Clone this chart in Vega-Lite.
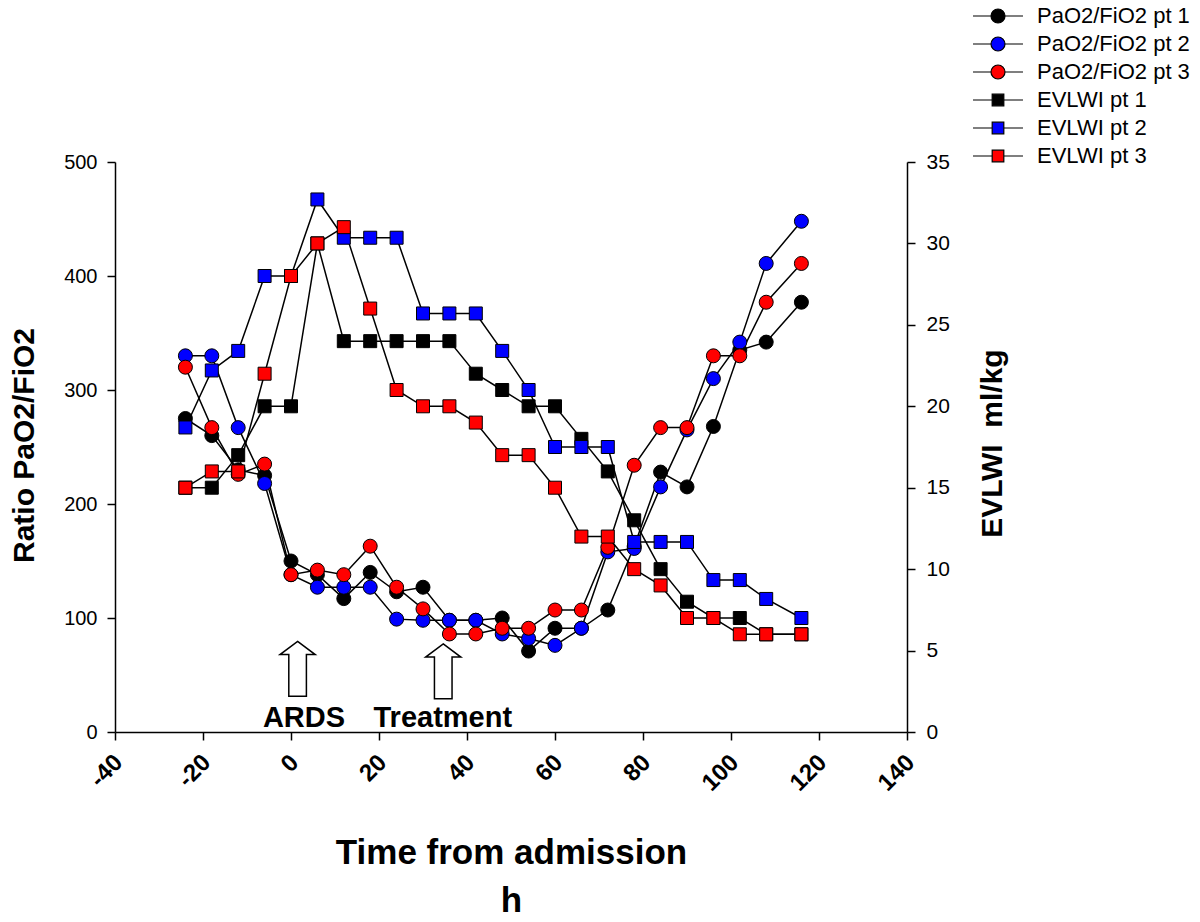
{
  "$schema": "https://vega.github.io/schema/vega-lite/v6.json",
  "width": 792,
  "height": 570,
  "autosize": {"type": "none"},
  "padding": {"left": 115, "top": 162, "right": 293, "bottom": 190},
  "background": "white",
  "config": {
    "view": {"stroke": null},
    "font": "Liberation Sans",
    "axis": {"grid": false, "domainColor": "black", "tickColor": "black", "labelColor": "black", "titleColor": "black", "domainWidth": 1.5, "tickWidth": 1.5, "tickSize": 8}
  },
  "datasets": {
    "d": [
      {"s": "PaO2/FiO2 pt 1", "k": "P", "t": -24, "v": 275}, {"s": "PaO2/FiO2 pt 1", "k": "P", "t": -18, "v": 260}, {"s": "PaO2/FiO2 pt 1", "k": "P", "t": -12, "v": 230}, {"s": "PaO2/FiO2 pt 1", "k": "P", "t": -6, "v": 225}, {"s": "PaO2/FiO2 pt 1", "k": "P", "t": 0, "v": 150}, {"s": "PaO2/FiO2 pt 1", "k": "P", "t": 6, "v": 138}, {"s": "PaO2/FiO2 pt 1", "k": "P", "t": 12, "v": 117}, {"s": "PaO2/FiO2 pt 1", "k": "P", "t": 18, "v": 140}, {"s": "PaO2/FiO2 pt 1", "k": "P", "t": 24, "v": 123}, {"s": "PaO2/FiO2 pt 1", "k": "P", "t": 30, "v": 127}, {"s": "PaO2/FiO2 pt 1", "k": "P", "t": 36, "v": 98}, {"s": "PaO2/FiO2 pt 1", "k": "P", "t": 42, "v": 98}, {"s": "PaO2/FiO2 pt 1", "k": "P", "t": 48, "v": 100}, {"s": "PaO2/FiO2 pt 1", "k": "P", "t": 54, "v": 71}, {"s": "PaO2/FiO2 pt 1", "k": "P", "t": 60, "v": 91}, {"s": "PaO2/FiO2 pt 1", "k": "P", "t": 66, "v": 91}, {"s": "PaO2/FiO2 pt 1", "k": "P", "t": 72, "v": 107}, {"s": "PaO2/FiO2 pt 1", "k": "P", "t": 78, "v": 163}, {"s": "PaO2/FiO2 pt 1", "k": "P", "t": 84, "v": 228}, {"s": "PaO2/FiO2 pt 1", "k": "P", "t": 90, "v": 215}, {"s": "PaO2/FiO2 pt 1", "k": "P", "t": 96, "v": 268}, {"s": "PaO2/FiO2 pt 1", "k": "P", "t": 102, "v": 335}, {"s": "PaO2/FiO2 pt 1", "k": "P", "t": 108, "v": 342}, {"s": "PaO2/FiO2 pt 1", "k": "P", "t": 116, "v": 377},
      {"s": "PaO2/FiO2 pt 2", "k": "P", "t": -24, "v": 330}, {"s": "PaO2/FiO2 pt 2", "k": "P", "t": -18, "v": 330}, {"s": "PaO2/FiO2 pt 2", "k": "P", "t": -12, "v": 267}, {"s": "PaO2/FiO2 pt 2", "k": "P", "t": -6, "v": 218}, {"s": "PaO2/FiO2 pt 2", "k": "P", "t": 0, "v": 138}, {"s": "PaO2/FiO2 pt 2", "k": "P", "t": 6, "v": 127}, {"s": "PaO2/FiO2 pt 2", "k": "P", "t": 12, "v": 127}, {"s": "PaO2/FiO2 pt 2", "k": "P", "t": 18, "v": 127}, {"s": "PaO2/FiO2 pt 2", "k": "P", "t": 24, "v": 99}, {"s": "PaO2/FiO2 pt 2", "k": "P", "t": 30, "v": 98}, {"s": "PaO2/FiO2 pt 2", "k": "P", "t": 36, "v": 98}, {"s": "PaO2/FiO2 pt 2", "k": "P", "t": 42, "v": 98}, {"s": "PaO2/FiO2 pt 2", "k": "P", "t": 48, "v": 86}, {"s": "PaO2/FiO2 pt 2", "k": "P", "t": 54, "v": 82}, {"s": "PaO2/FiO2 pt 2", "k": "P", "t": 60, "v": 76}, {"s": "PaO2/FiO2 pt 2", "k": "P", "t": 66, "v": 91}, {"s": "PaO2/FiO2 pt 2", "k": "P", "t": 72, "v": 158}, {"s": "PaO2/FiO2 pt 2", "k": "P", "t": 78, "v": 161}, {"s": "PaO2/FiO2 pt 2", "k": "P", "t": 84, "v": 215}, {"s": "PaO2/FiO2 pt 2", "k": "P", "t": 90, "v": 265}, {"s": "PaO2/FiO2 pt 2", "k": "P", "t": 96, "v": 310}, {"s": "PaO2/FiO2 pt 2", "k": "P", "t": 102, "v": 342}, {"s": "PaO2/FiO2 pt 2", "k": "P", "t": 108, "v": 411}, {"s": "PaO2/FiO2 pt 2", "k": "P", "t": 116, "v": 448},
      {"s": "PaO2/FiO2 pt 3", "k": "P", "t": -24, "v": 320}, {"s": "PaO2/FiO2 pt 3", "k": "P", "t": -18, "v": 267}, {"s": "PaO2/FiO2 pt 3", "k": "P", "t": -12, "v": 226}, {"s": "PaO2/FiO2 pt 3", "k": "P", "t": -6, "v": 235}, {"s": "PaO2/FiO2 pt 3", "k": "P", "t": 0, "v": 138}, {"s": "PaO2/FiO2 pt 3", "k": "P", "t": 6, "v": 142}, {"s": "PaO2/FiO2 pt 3", "k": "P", "t": 12, "v": 138}, {"s": "PaO2/FiO2 pt 3", "k": "P", "t": 18, "v": 163}, {"s": "PaO2/FiO2 pt 3", "k": "P", "t": 24, "v": 127}, {"s": "PaO2/FiO2 pt 3", "k": "P", "t": 30, "v": 108}, {"s": "PaO2/FiO2 pt 3", "k": "P", "t": 36, "v": 86}, {"s": "PaO2/FiO2 pt 3", "k": "P", "t": 42, "v": 86}, {"s": "PaO2/FiO2 pt 3", "k": "P", "t": 48, "v": 91}, {"s": "PaO2/FiO2 pt 3", "k": "P", "t": 54, "v": 91}, {"s": "PaO2/FiO2 pt 3", "k": "P", "t": 60, "v": 107}, {"s": "PaO2/FiO2 pt 3", "k": "P", "t": 66, "v": 107}, {"s": "PaO2/FiO2 pt 3", "k": "P", "t": 72, "v": 162}, {"s": "PaO2/FiO2 pt 3", "k": "P", "t": 78, "v": 234}, {"s": "PaO2/FiO2 pt 3", "k": "P", "t": 84, "v": 267}, {"s": "PaO2/FiO2 pt 3", "k": "P", "t": 90, "v": 267}, {"s": "PaO2/FiO2 pt 3", "k": "P", "t": 96, "v": 330}, {"s": "PaO2/FiO2 pt 3", "k": "P", "t": 102, "v": 330}, {"s": "PaO2/FiO2 pt 3", "k": "P", "t": 108, "v": 377}, {"s": "PaO2/FiO2 pt 3", "k": "P", "t": 116, "v": 411},
      {"s": "EVLWI pt 1", "k": "E", "t": -24, "v": 15}, {"s": "EVLWI pt 1", "k": "E", "t": -18, "v": 15}, {"s": "EVLWI pt 1", "k": "E", "t": -12, "v": 17}, {"s": "EVLWI pt 1", "k": "E", "t": -6, "v": 20}, {"s": "EVLWI pt 1", "k": "E", "t": 0, "v": 20}, {"s": "EVLWI pt 1", "k": "E", "t": 6, "v": 30}, {"s": "EVLWI pt 1", "k": "E", "t": 12, "v": 24}, {"s": "EVLWI pt 1", "k": "E", "t": 18, "v": 24}, {"s": "EVLWI pt 1", "k": "E", "t": 24, "v": 24}, {"s": "EVLWI pt 1", "k": "E", "t": 30, "v": 24}, {"s": "EVLWI pt 1", "k": "E", "t": 36, "v": 24}, {"s": "EVLWI pt 1", "k": "E", "t": 42, "v": 22}, {"s": "EVLWI pt 1", "k": "E", "t": 48, "v": 21}, {"s": "EVLWI pt 1", "k": "E", "t": 54, "v": 20}, {"s": "EVLWI pt 1", "k": "E", "t": 60, "v": 20}, {"s": "EVLWI pt 1", "k": "E", "t": 66, "v": 18}, {"s": "EVLWI pt 1", "k": "E", "t": 72, "v": 16}, {"s": "EVLWI pt 1", "k": "E", "t": 78, "v": 13}, {"s": "EVLWI pt 1", "k": "E", "t": 84, "v": 10}, {"s": "EVLWI pt 1", "k": "E", "t": 90, "v": 8}, {"s": "EVLWI pt 1", "k": "E", "t": 96, "v": 7}, {"s": "EVLWI pt 1", "k": "E", "t": 102, "v": 7}, {"s": "EVLWI pt 1", "k": "E", "t": 108, "v": 6}, {"s": "EVLWI pt 1", "k": "E", "t": 116, "v": 6},
      {"s": "EVLWI pt 2", "k": "E", "t": -24, "v": 18.7}, {"s": "EVLWI pt 2", "k": "E", "t": -18, "v": 22.2}, {"s": "EVLWI pt 2", "k": "E", "t": -12, "v": 23.4}, {"s": "EVLWI pt 2", "k": "E", "t": -6, "v": 28}, {"s": "EVLWI pt 2", "k": "E", "t": 0, "v": 28}, {"s": "EVLWI pt 2", "k": "E", "t": 6, "v": 32.7}, {"s": "EVLWI pt 2", "k": "E", "t": 12, "v": 30.35}, {"s": "EVLWI pt 2", "k": "E", "t": 18, "v": 30.35}, {"s": "EVLWI pt 2", "k": "E", "t": 24, "v": 30.35}, {"s": "EVLWI pt 2", "k": "E", "t": 30, "v": 25.7}, {"s": "EVLWI pt 2", "k": "E", "t": 36, "v": 25.7}, {"s": "EVLWI pt 2", "k": "E", "t": 42, "v": 25.7}, {"s": "EVLWI pt 2", "k": "E", "t": 48, "v": 23.4}, {"s": "EVLWI pt 2", "k": "E", "t": 54, "v": 21}, {"s": "EVLWI pt 2", "k": "E", "t": 60, "v": 17.5}, {"s": "EVLWI pt 2", "k": "E", "t": 66, "v": 17.5}, {"s": "EVLWI pt 2", "k": "E", "t": 72, "v": 17.5}, {"s": "EVLWI pt 2", "k": "E", "t": 78, "v": 11.67}, {"s": "EVLWI pt 2", "k": "E", "t": 84, "v": 11.67}, {"s": "EVLWI pt 2", "k": "E", "t": 90, "v": 11.67}, {"s": "EVLWI pt 2", "k": "E", "t": 96, "v": 9.33}, {"s": "EVLWI pt 2", "k": "E", "t": 102, "v": 9.33}, {"s": "EVLWI pt 2", "k": "E", "t": 108, "v": 8.17}, {"s": "EVLWI pt 2", "k": "E", "t": 116, "v": 7},
      {"s": "EVLWI pt 3", "k": "E", "t": -24, "v": 15}, {"s": "EVLWI pt 3", "k": "E", "t": -18, "v": 16}, {"s": "EVLWI pt 3", "k": "E", "t": -12, "v": 16}, {"s": "EVLWI pt 3", "k": "E", "t": -6, "v": 22}, {"s": "EVLWI pt 3", "k": "E", "t": 0, "v": 28}, {"s": "EVLWI pt 3", "k": "E", "t": 6, "v": 30}, {"s": "EVLWI pt 3", "k": "E", "t": 12, "v": 31}, {"s": "EVLWI pt 3", "k": "E", "t": 18, "v": 26}, {"s": "EVLWI pt 3", "k": "E", "t": 24, "v": 21}, {"s": "EVLWI pt 3", "k": "E", "t": 30, "v": 20}, {"s": "EVLWI pt 3", "k": "E", "t": 36, "v": 20}, {"s": "EVLWI pt 3", "k": "E", "t": 42, "v": 19}, {"s": "EVLWI pt 3", "k": "E", "t": 48, "v": 17}, {"s": "EVLWI pt 3", "k": "E", "t": 54, "v": 17}, {"s": "EVLWI pt 3", "k": "E", "t": 60, "v": 15}, {"s": "EVLWI pt 3", "k": "E", "t": 66, "v": 12}, {"s": "EVLWI pt 3", "k": "E", "t": 72, "v": 12}, {"s": "EVLWI pt 3", "k": "E", "t": 78, "v": 10}, {"s": "EVLWI pt 3", "k": "E", "t": 84, "v": 9}, {"s": "EVLWI pt 3", "k": "E", "t": 90, "v": 7}, {"s": "EVLWI pt 3", "k": "E", "t": 96, "v": 7}, {"s": "EVLWI pt 3", "k": "E", "t": 102, "v": 6}, {"s": "EVLWI pt 3", "k": "E", "t": 108, "v": 6}, {"s": "EVLWI pt 3", "k": "E", "t": 116, "v": 6}
    ],
    "arrows": [
      {"t": 1.5, "v": 55.4},
      {"t": 34.6, "v": 53.2}
    ],
    "notes": [
      {"t": 2.95, "v": 4.4, "label": "ARDS"},
      {"t": 34.5, "v": 4.4, "label": "Treatment"}
    ]
  },
  "encoding": {
    "x": {
      "field": "t", "type": "quantitative",
      "scale": {"domain": [-40, 140], "nice": false, "zero": false},
      "axis": {
        "values": [-40, -20, 0, 20, 40, 60, 80, 100, 120, 140],
        "labelExpr": "'' + datum.value",
        "labelAngle": -45, "labelFontSize": 24, "labelFontWeight": "bold", "labelPadding": 10, "labelOffset": -5,
        "title": ["Time from admission", "h"], "titleFontSize": 35, "titleFontWeight": "bold",
        "titleLineHeight": 48, "titleY": 131, "titleBaseline": "alphabetic"
      }
    }
  },
  "layer": [
    {
      "layer": [
        {
          "data": {"name": "d"},
          "transform": [{"filter": "datum.k == 'P'"}],
          "mark": {"type": "point", "filled": true, "size": 0, "stroke": "black", "strokeWidth": 1.2},
          "encoding": {
            "y": {"field": "v", "type": "quantitative", "scale": {"domain": [0, 500], "nice": false},
              "axis": {"orient": "left", "values": [0, 100, 200, 300, 400, 500], "labelFontSize": 20, "labelPadding": 10,
                "title": "Ratio PaO2/FiO2", "titleFontSize": 30, "titleFontWeight": "bold",
                "titleX": -91, "titleY": 283, "titleAngle": 270, "titleBaseline": "middle", "titleAlign": "center"}},
            "color": {
              "field": "s", "type": "nominal",
              "scale": {"domain": ["PaO2/FiO2 pt 1", "PaO2/FiO2 pt 2", "PaO2/FiO2 pt 3", "EVLWI pt 1", "EVLWI pt 2", "EVLWI pt 3"],
                "range": ["#000000", "#0000ff", "#ff0000", "#000000", "#0000ff", "#ff0000"]},
              "legend": {
                "orient": "none", "legendX": 872, "legendY": -157, "title": null, "padding": 0,
                "labelFontSize": 22, "labelColor": "black", "labelOffset": 28, "labelLimit": 300,
                "rowPadding": 6, "symbolSize": 196, "symbolStrokeColor": "black", "symbolStrokeWidth": 1.2, "symbolOpacity": 1,
                "encode": {"symbols": {"update": {"stroke": {"value": "black"}, "strokeWidth": {"value": 1.2}}}}
              }
            },
            "shape": {
              "field": "s", "type": "nominal",
              "scale": {"domain": ["PaO2/FiO2 pt 1", "PaO2/FiO2 pt 2", "PaO2/FiO2 pt 3", "EVLWI pt 1", "EVLWI pt 2", "EVLWI pt 3"],
                "range": ["M-3.57,0H-1M1,0H3.57M-1,0A1,1 0 1,0 1,0A1,1 0 1,0 -1,0Z", "M-3.57,0H-1M1,0H3.57M-1,0A1,1 0 1,0 1,0A1,1 0 1,0 -1,0Z", "M-3.57,0H-1M1,0H3.57M-1,0A1,1 0 1,0 1,0A1,1 0 1,0 -1,0Z", "M-3.57,0H-0.83M0.83,0H3.57M-0.83,-0.83H0.83V0.83H-0.83Z", "M-3.57,0H-0.83M0.83,0H3.57M-0.83,-0.83H0.83V0.83H-0.83Z", "M-3.57,0H-0.83M0.83,0H3.57M-0.83,-0.83H0.83V0.83H-0.83Z"]},
              "legend": {
                "orient": "none", "legendX": 872, "legendY": -157, "title": null, "padding": 0,
                "labelFontSize": 22, "labelColor": "black", "labelOffset": 28, "labelLimit": 300,
                "rowPadding": 6, "symbolSize": 196, "symbolStrokeColor": "black", "symbolStrokeWidth": 1.2, "symbolOpacity": 1,
                "encode": {"symbols": {"update": {"stroke": {"value": "black"}, "strokeWidth": {"value": 1.2}}}}
              }
            }
          }
        },
        {
          "data": {"name": "d"},
          "transform": [{"filter": "datum.k == 'P'"}],
          "mark": {"type": "line", "color": "black", "strokeWidth": 1.5},
          "encoding": {
            "y": {"field": "v", "type": "quantitative", "scale": {"domain": [0, 500], "nice": false}},
            "detail": {"field": "s"}
          }
        },
        {
          "data": {"name": "d"},
          "transform": [{"filter": "datum.k == 'P'"}],
          "mark": {"type": "point", "shape": "circle", "filled": true, "size": 196, "stroke": "black", "strokeWidth": 1, "opacity": 1},
          "encoding": {
            "y": {"field": "v", "type": "quantitative", "scale": {"domain": [0, 500], "nice": false}},
            "fill": {
              "field": "s", "type": "nominal",
              "scale": {"domain": ["PaO2/FiO2 pt 1", "PaO2/FiO2 pt 2", "PaO2/FiO2 pt 3", "EVLWI pt 1", "EVLWI pt 2", "EVLWI pt 3"],
                "range": ["#000000", "#0000ff", "#ff0000", "#000000", "#0000ff", "#ff0000"]},
              "legend": null
            }
          }
        },
        {
          "data": {"name": "arrows"},
          "mark": {"type": "point", "shape": "M0,-1L0.64,-0.52L0.32,-0.52L0.32,1L-0.32,1L-0.32,-0.52L-0.64,-0.52Z", "size": 3025, "filled": true, "fill": "white", "stroke": "black", "strokeWidth": 1.5, "opacity": 1},
          "encoding": {
            "y": {"field": "v", "type": "quantitative", "scale": {"domain": [0, 500], "nice": false}}
          }
        },
        {
          "data": {"name": "notes"},
          "mark": {"type": "text", "fontSize": 29, "fontWeight": "bold", "baseline": "alphabetic", "align": "center", "color": "black"},
          "encoding": {
            "y": {"field": "v", "type": "quantitative", "scale": {"domain": [0, 500], "nice": false}},
            "text": {"field": "label"}
          }
        }
      ]
    },
    {
      "layer": [
        {
          "data": {"name": "d"},
          "transform": [{"filter": "datum.k == 'E'"}],
          "mark": {"type": "line", "color": "black", "strokeWidth": 1.5},
          "encoding": {
            "y": {"field": "v", "type": "quantitative", "scale": {"domain": [0, 35], "nice": false},
              "axis": {"orient": "right", "values": [0, 5, 10, 15, 20, 25, 30, 35], "labelFontSize": 21, "labelPadding": 11,
                "title": "EVLWI\u00a0\u00a0ml/kg", "titleFontSize": 30, "titleFontWeight": "bold",
                "titleX": 85, "titleY": 281, "titleAngle": 270, "titleBaseline": "middle", "titleAlign": "center"}},
            "detail": {"field": "s"}
          }
        },
        {
          "data": {"name": "d"},
          "transform": [{"filter": "datum.k == 'E'"}],
          "mark": {"type": "point", "shape": "square", "filled": true, "size": 169, "stroke": "black", "strokeWidth": 1, "opacity": 1},
          "encoding": {
            "y": {"field": "v", "type": "quantitative", "scale": {"domain": [0, 35], "nice": false}},
            "fill": {
              "field": "s", "type": "nominal",
              "scale": {"domain": ["PaO2/FiO2 pt 1", "PaO2/FiO2 pt 2", "PaO2/FiO2 pt 3", "EVLWI pt 1", "EVLWI pt 2", "EVLWI pt 3"],
                "range": ["#000000", "#0000ff", "#ff0000", "#000000", "#0000ff", "#ff0000"]},
              "legend": null
            }
          }
        }
      ]
    }
  ],
  "resolve": {"scale": {"y": "independent"}}
}
